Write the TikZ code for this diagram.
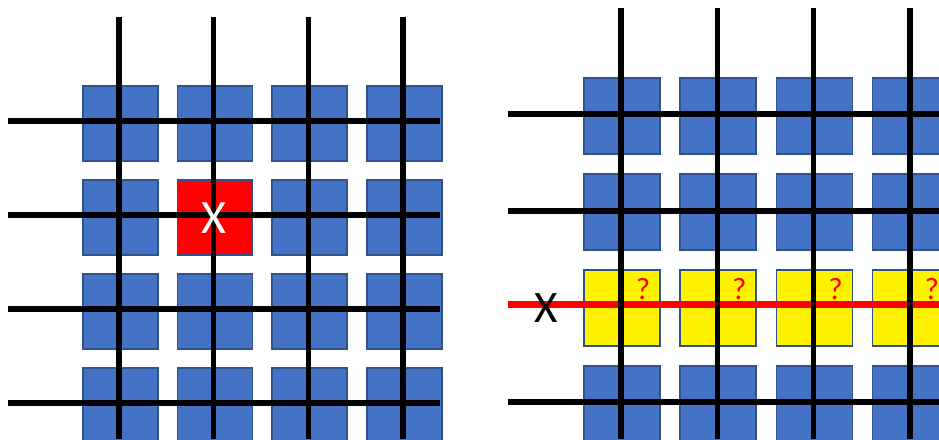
\documentclass[tikz,border=0pt]{standalone}
\usepackage{fontspec}
\setmainfont{Carlito}
\definecolor{cellblue}{HTML}{4472C4}
\definecolor{celledge}{HTML}{2F528F}

\begin{document}
\begin{tikzpicture}[x=1pt, y=-1pt,
  cell/.style={draw=celledge, line width=1.5pt, minimum size=75pt, inner sep=0pt, anchor=north west},
  wire/.style={line width=5.5pt, black},
  hitwire/.style={line width=7pt, red},
  glyph/.style={inner sep=0pt}]
\useasboundingbox (0,0) rectangle (939,439);
% left: one cell looked up
\foreach \i in {0,...,3}
  \foreach \j in {0,...,3}{
    \ifnum\i\j=11 \def\cf{red}\else\def\cf{cellblue}\fi
    \node[cell, fill=\cf] (L\i\j) at ({82+94.7*\i},{85+94*\j}) {};
  }
\foreach \i in {0,...,3}
  \draw[wire] ({119+94.7*\i},17) -- ({119+94.7*\i},439);
\foreach \j in {0,...,3}
  \draw[wire] (8,{121+94*\j}) -- (440,{121+94*\j});
\node[glyph, text=white, font=\fontsize{48}{48}\selectfont] (xl) at (214,218) {X};

% right: a whole row in doubt
\foreach \i in {0,...,3}
  \foreach \j in {0,...,3}{
    \ifnum\j=2 \def\cf{yellow}\else\def\cf{cellblue}\fi
    \node[cell, minimum size=76pt, fill=\cf] (R\i\j) at ({583+96.3*\i},{77+96*\j}) {};
  }
\foreach \y in {114,211,402}
  \draw[wire] (508,\y) -- (939,\y);
\draw[hitwire] (508,304) -- (939,304);
\foreach \i in {0,...,3}
  \draw[wire] ({621+96.3*\i},8) -- ({621+96.3*\i},439);
\node[glyph, font=\fontsize{45}{45}\selectfont] (xr) at (546,308) {X};
\foreach \i in {0,...,3}
  \node[glyph, text=red, font=\fontsize{31}{31}\selectfont] (q\i) at ({643+96.3*\i},289) {?};
\end{tikzpicture}
\end{document}
